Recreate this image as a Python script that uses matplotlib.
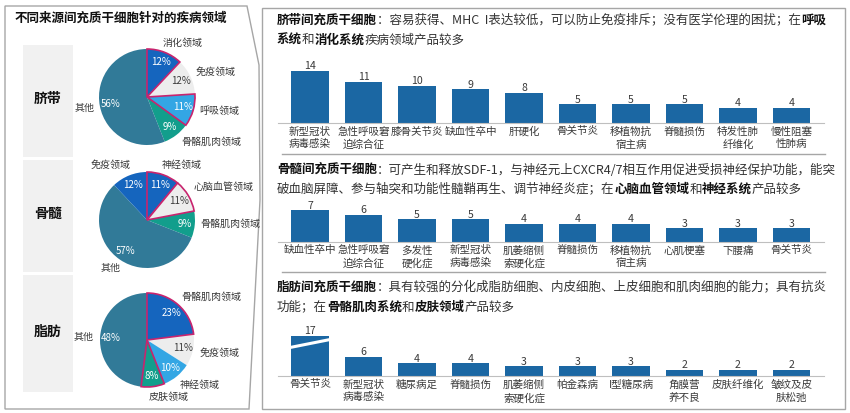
import matplotlib
matplotlib.use("Agg")
import matplotlib.pyplot as plt
from matplotlib.patches import Polygon, Rectangle

plt.rcParams['font.family'] = ['Noto Sans CJK SC', 'DejaVu Sans']

# ---------------- data ----------------
pie_groups = ["脐带", "骨髓", "脂肪"]
umb_labels = ["消化领域", "免疫领域", "呼吸领域", "骨骼肌肉领域", "其他"]
umb_vals = [12, 12, 11, 9, 56]
bm_labels = ["神经领域", "心脑血管领域", "骨骼肌肉领域", "其他", "免疫领域"]
bm_vals = [11, 11, 9, 57, 12]
fat_labels = ["骨骼肌肉领域", "免疫领域", "神经领域", "皮肤领域", "其他"]
fat_vals = [23, 11, 10, 8, 48]

umb_cats = ["新型冠状\n病毒感染", "急性呼吸窘\n迫综合征", "膝骨关节炎", "缺血性卒中", "肝硬化",
            "骨关节炎", "移植物抗\n宿主病", "脊髓损伤", "特发性肺\n纤维化", "慢性阻塞\n性肺病"]
umb_counts = [14, 11, 10, 9, 8, 5, 5, 5, 4, 4]
bm_cats = ["缺血性卒中", "急性呼吸窘\n迫综合征", "多发性\n硬化症", "新型冠状\n病毒感染", "肌萎缩侧\n索硬化症",
           "脊髓损伤", "移植物抗\n宿主病", "心肌梗塞", "下腰痛", "骨关节炎"]
bm_counts = [7, 6, 5, 5, 4, 4, 4, 3, 3, 3]
fat_cats = ["骨关节炎", "新型冠状\n病毒感染", "糖尿病足", "脊髓损伤", "肌萎缩侧\n索硬化症",
            "帕金森病", "I型糖尿病", "角膜营\n养不良", "皮肤纤维化", "皱纹及皮\n肤松弛"]
fat_counts = [17, 6, 4, 4, 3, 3, 3, 2, 2, 2]

left_title = "不同来源间充质干细胞针对的疾病领域"
sec_titles = [
    [[("脐带间充质干细胞", True), ("：容易获得、MHC  I表达较低，可以防止免疫排斥；没有医学伦理的困扰；在", False), ("呼吸", True)],
     [("系统", True), ("和", False), ("消化系统", True), ("疾病领域产品较多", False)]],
    [[("骨髓间充质干细胞", True), ("：可产生和释放SDF-1，与神经元上CXCR4/7相互作用促进受损神经保护功能，能突", False)],
     [("破血脑屏障、参与轴突和功能性髓鞘再生、调节神经炎症；在", False), ("心脑血管领域", True), ("和", False),
      ("神经系统", True), ("产品较多", False)]],
    [[("脂肪间充质干细胞", True), ("：具有较强的分化成脂肪细胞、内皮细胞、上皮细胞和肌肉细胞的能力；具有抗炎", False)],
     [("功能；在", False), ("骨骼肌肉系统", True), ("和", False), ("皮肤领域", True), ("产品较多", False)]],
]

# ---------------- style ----------------
C_DARK = "#1565BE"
C_GREY = "#EDEDED"
C_LIGHT = "#33A6E4"
C_TEAL = "#129E8C"
C_STEEL = "#317A98"
C_PINK = "#C8246E"
C_BAR = "#1B67A3"
TXT = "#3A3A3A"

W, H = 850, 413
fig = plt.figure(figsize=(W / 100, H / 100), dpi=100)
fig.patch.set_facecolor("white")

ov = fig.add_axes([0, 0, 1, 1], zorder=0)
ov.set_xlim(0, W)
ov.set_ylim(H, 0)
ov.axis("off")
ov.patch.set_alpha(0)


def px_axes(x0, y0, w, h, z=2):
    return fig.add_axes([x0 / W, (H - y0 - h) / H, w / W, h / H], zorder=z)


# left panel outline
ov.add_patch(Polygon([(5, 6), (247, 6), (259, 65), (260, 200), (249, 409), (5, 409)],
                     closed=True, fill=False, ec="#A6A6A6", lw=1.0))
# right panel
ov.add_patch(Rectangle((262, 8), 583, 401, fill=False, ec="#A6A6A6", lw=1.0))
for ys in (154, 272):
    ov.plot([282, 825], [ys, ys], color="#A6A6A6", lw=1.0)

ov.text(15, 18, left_title, fontsize=9, fontweight="bold", color="#111111", ha="left", va="center")

# group label boxes
boxes = [(45, 157), (160, 272), (275, 392)]
for (y0, y1), g in zip(boxes, pie_groups):
    ov.add_patch(Rectangle((23, y0), 50, y1 - y0, fc="#F1F1F1", ec="none"))
    ov.text(48, (y0 + y1) / 2 - 2, g, fontsize=10, fontweight="bold", color="#111111", ha="center", va="center")

# pies
pies = [
    (umb_vals, umb_labels, [C_DARK, C_GREY, C_LIGHT, C_TEAL, C_STEEL], {"消化领域", "呼吸领域"},
     (147, 97, 48), [(183, 43), (216, 72), (219, 111), (211, 142), (85, 108)]),
    (bm_vals, bm_labels, [C_DARK, C_GREY, C_TEAL, C_STEEL, C_DARK], {"神经领域", "心脑血管领域"},
     (147, 220, 48), [(182, 165), (224, 187), (230, 224), (111, 268), (111, 165)]),
    (fat_vals, fat_labels, [C_DARK, C_GREY, C_LIGHT, C_TEAL, C_STEEL], {"骨骼肌肉领域", "皮肤领域"},
     (147, 340, 47), [(211, 297), (220, 353), (200, 385), (169, 397), (84, 337)]),
]
for vals, labs, cols, hl, (cx, cy, r), lpos in pies:
    pa = px_axes(cx - r - 2, cy - r - 2, 2 * r + 4, 2 * r + 4, z=3)
    wedges, _, auto = pa.pie(vals, colors=cols, startangle=90, counterclock=False, radius=1.0,
                             autopct=lambda p: f"{p:.0f}%", pctdistance=0.78,
                             wedgeprops=dict(linewidth=0), textprops=dict(fontsize=7))
    lim = (r + 2) / r
    pa.set_xlim(-lim, lim)
    pa.set_ylim(-lim, lim)
    pa.set_aspect("equal")
    pa.axis("off")
    for w, lab, col, t in zip(wedges, labs, cols, auto):
        t.set_color(TXT if col == C_GREY else "white")
        t.set_zorder(10)
        if lab in hl:
            w.set_edgecolor(C_PINK)
            w.set_linewidth(1.2)
            w.set_zorder(5)
    for lab, (lx, ly) in zip(labs, lpos):
        ov.text(lx, ly, lab, fontsize=7.2, color=TXT, ha="center", va="center")

# rich titles
renderer = fig.canvas.get_renderer()


def rich_line(x, y, parts, size=9):
    for s, b in parts:
        t = ov.text(x, y, s, fontsize=size, fontweight="bold" if b else "normal",
                    color="#111111" if b else "#333333", ha="left", va="center")
        bb = t.get_window_extent(renderer)
        x += bb.width


title_y = [(20, 40), (170, 189), (287, 307)]
for lines, ys in zip(sec_titles, title_y):
    for parts, y in zip(lines, ys):
        rich_line(277, y, parts)

# bars
pitch = 53.5
first_c = 310
x_lo, x_hi = -0.6, 9.6
sections = [
    (umb_cats, umb_counts, 123, 3.73, 55, None),
    (bm_cats, bm_counts, 241.7, 4.5, 35, None),
    (fat_cats, fat_counts, 376, 3.2, 45, 12.6),
]
for cats, counts, base, ppu, hh, cap in sections:
    left = first_c + x_lo * pitch
    ax = px_axes(left, base - hh, (x_hi - x_lo) * pitch, hh, z=2)
    ax.patch.set_alpha(0)
    xs = list(range(len(counts)))
    heights = [min(v, cap) if cap else v for v in counts]
    ax.bar(xs, heights, width=0.71, color=C_BAR, zorder=2)
    ax.set_xlim(x_lo, x_hi)
    ax.set_ylim(0, hh / ppu)
    for s in ("top", "right", "left"):
        ax.spines[s].set_visible(False)
    ax.spines["bottom"].set_color("#BFBFBF")
    ax.spines["bottom"].set_linewidth(0.8)
    ax.set_yticks([])
    ax.set_xticks(xs)
    ax.set_xticklabels(cats, fontsize=7.6, color=TXT, linespacing=1.35)
    ax.tick_params(axis="x", length=0, pad=2.5)
    for x, h, v in zip(xs, heights, counts):
        ax.annotate(str(v), (x, h), xytext=(0, 1.2), textcoords="offset points",
                    ha="center", va="baseline", fontsize=7.6, color=TXT, annotation_clip=False)
    if cap:
        i = counts.index(max(counts))
        ax.plot([i - 0.42, i + 0.42], [cap - 3.85, cap - 1.05], color="white", lw=2.2,
                solid_capstyle="butt", zorder=3)

fig.savefig("out.png", dpi=100)
